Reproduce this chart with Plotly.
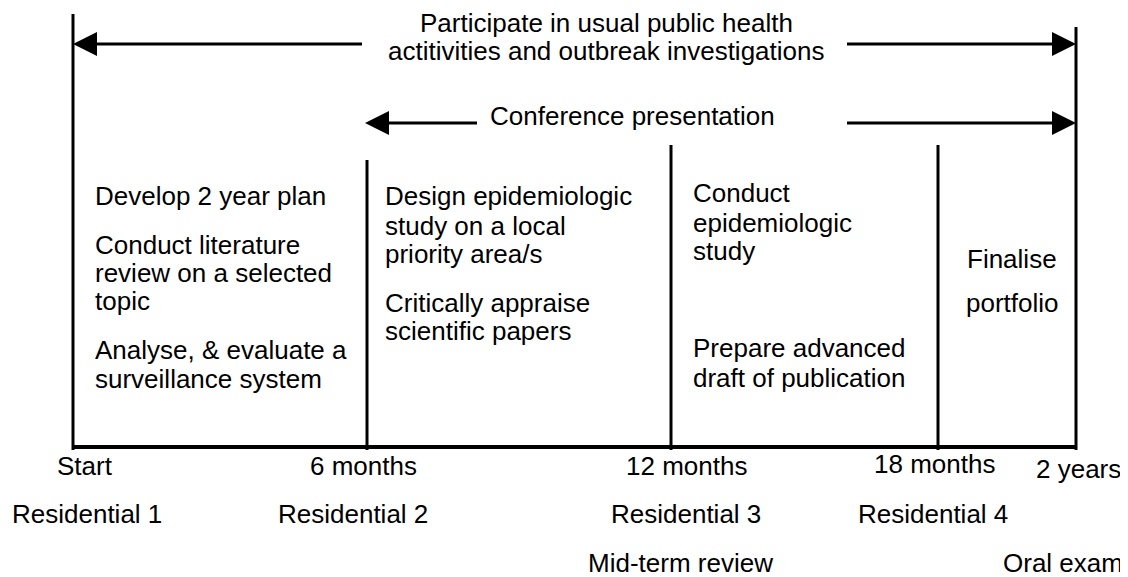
import plotly.graph_objects as go

# ---- data ----
milestones = ["Start", "6 months", "12 months", "18 months", "2 years"]
residentials = ["Residential 1", "Residential 2", "Residential 3", "Residential 4", ""]
reviews = ["", "", "Mid-term review", "", "Oral exam"]
top_text = ["Participate in usual public health", "actitivities and outbreak investigations"]
conf_text = "Conference presentation"
col_texts = [
    ["Develop 2 year plan", "Conduct literature", "review on a selected", "topic",
     "Analyse, & evaluate a", "surveillance system"],
    ["Design epidemiologic", "study on a local", "priority area/s",
     "Critically appraise", "scientific papers"],
    ["Conduct", "epidemiologic", "study", "Prepare advanced", "draft of publication"],
    ["Finalise", "portfolio"],
]

# ---- layout (pixel-like positions in a 1128x577 page) ----
W, H = 1128, 577
PAGE_MARGIN = 8  # default body margin of the html page
line_x = [73, 367, 671, 938, 1076]
line_top = [14, 160, 145, 145, 27]
base_y = 447
milestone_label_x = [85, 363, 686, 934, 1078]
milestone_label_y = [466, 466, 466, 464, 469]
resid_label_x = [87, 353, 686, 933, 0]
resid_y = 514
review_label_x = [0, 0, 680, 0, 1063]
review_y = 563
col_x = [93, 383, 691, 1012]
col_y = [
    [196, 245, 273, 301, 350, 379],
    [196, 226, 254, 303, 331],
    [193, 223, 251, 348, 378],
    [259, 303],
]
top_x, top_y = 606, [23, 51]
conf_x, conf_y = 632, 116
FONT = "Liberation Sans, Arial, sans-serif"
FS = 26

fig = go.Figure()
shapes = []
annotations = []
LW = 3

# vertical lines
for x, t in zip(line_x, line_top):
    shapes.append(dict(type="line", xref="x", yref="y", x0=x, x1=x, y0=t, y1=base_y + 3,
                       line=dict(color="black", width=LW)))
# baseline
shapes.append(dict(type="line", xref="x", yref="y", x0=line_x[0], x1=line_x[-1],
                   y0=base_y, y1=base_y, line=dict(color="black", width=4)))

arrows = [
    dict(y=44, lx0=line_x[0], lx1=362, rx0=847, rx1=line_x[-1]),
    dict(y=123, lx0=line_x[1] - 2, lx1=477, rx0=847, rx1=line_x[-1]),
]
AH_L, AH_H = 24, 12
for a in arrows:
    y = a["y"]
    shapes.append(dict(type="line", xref="x", yref="y", x0=a["lx0"] + 10, x1=a["lx1"],
                       y0=y, y1=y, line=dict(color="black", width=LW)))
    shapes.append(dict(type="line", xref="x", yref="y", x0=a["rx0"], x1=a["rx1"] - 10,
                       y0=y, y1=y, line=dict(color="black", width=LW)))
    tx = a["lx0"]
    shapes.append(dict(type="path", xref="x", yref="y",
                       path=f"M {tx} {y} L {tx + AH_L} {y - AH_H} L {tx + AH_L} {y + AH_H} Z",
                       fillcolor="black", line=dict(color="black", width=0)))
    tx = a["rx1"]
    shapes.append(dict(type="path", xref="x", yref="y",
                       path=f"M {tx} {y} L {tx - AH_L} {y - AH_H} L {tx - AH_L} {y + AH_H} Z",
                       fillcolor="black", line=dict(color="black", width=0)))

def txt(x, y, s, anchor="center"):
    annotations.append(dict(x=x, y=y, xref="x", yref="y", text=s, showarrow=False,
                            xanchor=anchor, yanchor="middle",
                            font=dict(family=FONT, size=FS, color="black")))

for s, y in zip(top_text, top_y):
    txt(top_x, y, s)
txt(conf_x, conf_y, conf_text)

for i, lines in enumerate(col_texts):
    anchor = "center" if i == 3 else "left"
    for s, y in zip(lines, col_y[i]):
        txt(col_x[i], y, s, anchor)

for s, x, y in zip(milestones, milestone_label_x, milestone_label_y):
    txt(x, y, s)
for s, x in zip(residentials, resid_label_x):
    if s:
        txt(x, resid_y, s)
for s, x in zip(reviews, review_label_x):
    if s:
        txt(x, review_y, s)

fig.update_layout(
    width=W - PAGE_MARGIN, height=H - PAGE_MARGIN,
    margin=dict(l=0, r=0, t=0, b=0),
    paper_bgcolor="white", plot_bgcolor="white",
    xaxis=dict(range=[PAGE_MARGIN, W], visible=False, fixedrange=True),
    yaxis=dict(range=[H, PAGE_MARGIN], visible=False, fixedrange=True),
    shapes=shapes, annotations=annotations, showlegend=False,
)
fig.write_html("out.html")
